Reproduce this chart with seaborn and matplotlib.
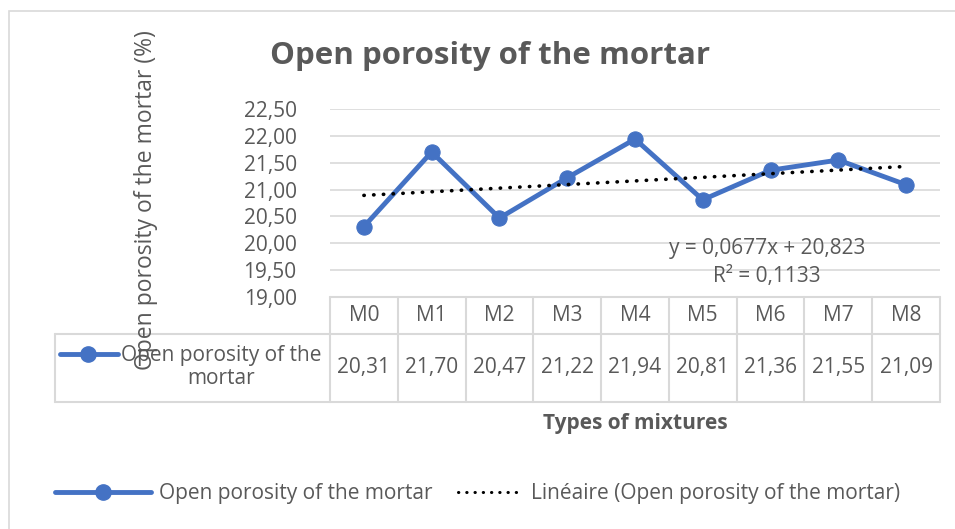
import numpy as np
import pandas as pd
import matplotlib.pyplot as plt
import seaborn as sns
from matplotlib.lines import Line2D
from matplotlib.patches import Rectangle

categories = ["M0", "M1", "M2", "M3", "M4", "M5", "M6", "M7", "M8"]
porosity = [20.31, 21.70, 20.47, 21.22, 21.94, 20.81, 21.36, 21.55, 21.09]
series_name = "Open porosity of the mortar"
yticks = [19.0, 19.5, 20.0, 20.5, 21.0, 21.5, 22.0, 22.5]
# trend label as printed on the chart
trend_eq = "y = 0,0677x + 20,823"
trend_r2 = "R² = 0,1133"

veri = pd.DataFrame({"pos": np.arange(len(categories)), "mixture": categories, "porosity": porosity})

sns.set_style("white")
plt.rcParams["font.family"] = ["Open Sans", "DejaVu Sans"]

BLUE = "#4472C4"
TXT = "#595959"
GRID = "#D9D9D9"
FS = 15
W, H = 955, 529

def fx(px):
    return px / W

def fy(py):
    return 1 - py / H

fig = plt.figure(figsize=(9.55, 5.29), dpi=100)

# chart frame
fig.patches.append(Rectangle((fx(9), fy(560)), 1.2, (560 - 11) / H, transform=fig.transFigure,
                             fill=False, edgecolor=GRID, linewidth=1.2))

# plot area
L, R, T, B = 330, 940, 109, 297
ax = fig.add_axes([fx(L), fy(B), (R - L) / W, (B - T) / H])
n = len(categories)
colw = (R - L) / n

sns.lineplot(data=veri, x="pos", y="porosity", ax=ax, color=BLUE, linewidth=3.5,
             marker="o", markersize=11, markeredgecolor=BLUE, zorder=3)
sns.regplot(data=veri, x="pos", y="porosity", ax=ax, scatter=False, ci=None,
            line_kws=dict(color="black", linestyle=(0, (0.1, 2.6)), linewidth=2.6,
                          dash_capstyle="round", zorder=4))

ax.set_xlim(-0.5, n - 0.5)
ax.set_ylim(yticks[0], yticks[-1])
ax.set_yticks(yticks)
ax.set_yticklabels([f"{v:.2f}".replace(".", ",") for v in yticks], color=TXT, fontsize=FS)
ax.tick_params(axis="y", length=0, pad=24)
ax.set_xticks([])
ax.set_xlabel("")
ax.set_ylabel("")
for s in ax.spines.values():
    s.set_visible(False)
ax.grid(axis="y", color=GRID, linewidth=1.2)
ax.set_axisbelow(True)

# trend equation
ax.text(5.95, 19.91, trend_eq, ha="center", va="center", color=TXT, fontsize=FS)
ax.text(5.95, 19.39, trend_r2, ha="center", va="center", color=TXT, fontsize=FS)

# data table
TL, TT, TB, TM = 55, 297, 402, 334
tax = fig.add_axes([fx(TL), fy(TB), (R - TL) / W, (TB - TT) / H])
tax.set_xlim(-0.5 - (L - TL) / colw, n - 0.5)
tax.set_ylim(TB - TT, 0)
tax.axis("off")
hdr = TM - TT
kw = dict(color=GRID, linewidth=1.5, clip_on=False)
tax.plot([-0.5, n - 0.5], [0, 0], **kw)
tax.plot([tax.get_xlim()[0], n - 0.5], [hdr, hdr], **kw)
tax.plot([tax.get_xlim()[0], n - 0.5], [TB - TT, TB - TT], **kw)
for k in range(n + 1):
    tax.plot([k - 0.5, k - 0.5], [0, TB - TT], **kw)
tax.plot([tax.get_xlim()[0]] * 2, [hdr, TB - TT], **kw)
for i, (c, v) in enumerate(zip(categories, porosity)):
    tax.text(i, hdr / 2, c, ha="center", va="center", color=TXT, fontsize=FS)
    tax.text(i, (hdr + TB - TT) / 2, f"{v:.2f}".replace(".", ","), ha="center", va="center",
             color=TXT, fontsize=FS)

def ux(px):
    return -0.5 + (px - L) / colw

tax.plot([ux(60), ux(118)], [354 - TT] * 2, color=BLUE, linewidth=3.5, clip_on=False)
tax.plot([ux(88)], [354 - TT], "o", color=BLUE, markersize=11, clip_on=False)
tax.text(ux(221), 367 - TT, "Open porosity of the\nmortar", ha="center", va="center",
         color=TXT, fontsize=FS, linespacing=1.15)

# titles
fig.text(fx(490), fy(56), "Open porosity of the mortar", ha="center", va="center",
         color=TXT, fontsize=22.5, fontweight="bold")
fig.text(fx(146), fy(200), "Open porosity of the mortar (%)", ha="center", va="center",
         rotation=90, color=TXT, fontsize=16.5)
fig.text(fx(635), fy(424), "Types of mixtures", ha="center", va="center",
         color=TXT, fontsize=FS, fontweight="bold")

# legend: two entries with different key lengths
h_series = Line2D([], [], color=BLUE, linewidth=3.5, marker="o", markersize=11)
h_trend = Line2D([], [], color="black", linestyle=(0, (0.1, 2.6)), linewidth=2.2,
                 dash_capstyle="round")
for h, lab, x0, hl in [(h_series, series_name, 55, 4.6),
                       (h_trend, f"Linéaire ({series_name})", 458, 3.1)]:
    fig.legend([h], [lab], loc="center left", bbox_to_anchor=(fx(x0), fy(494)),
               frameon=False, fontsize=FS, labelcolor=TXT, handlelength=hl,
               handletextpad=0.4, borderpad=0, borderaxespad=0)

fig.savefig("out.png", dpi=100)
